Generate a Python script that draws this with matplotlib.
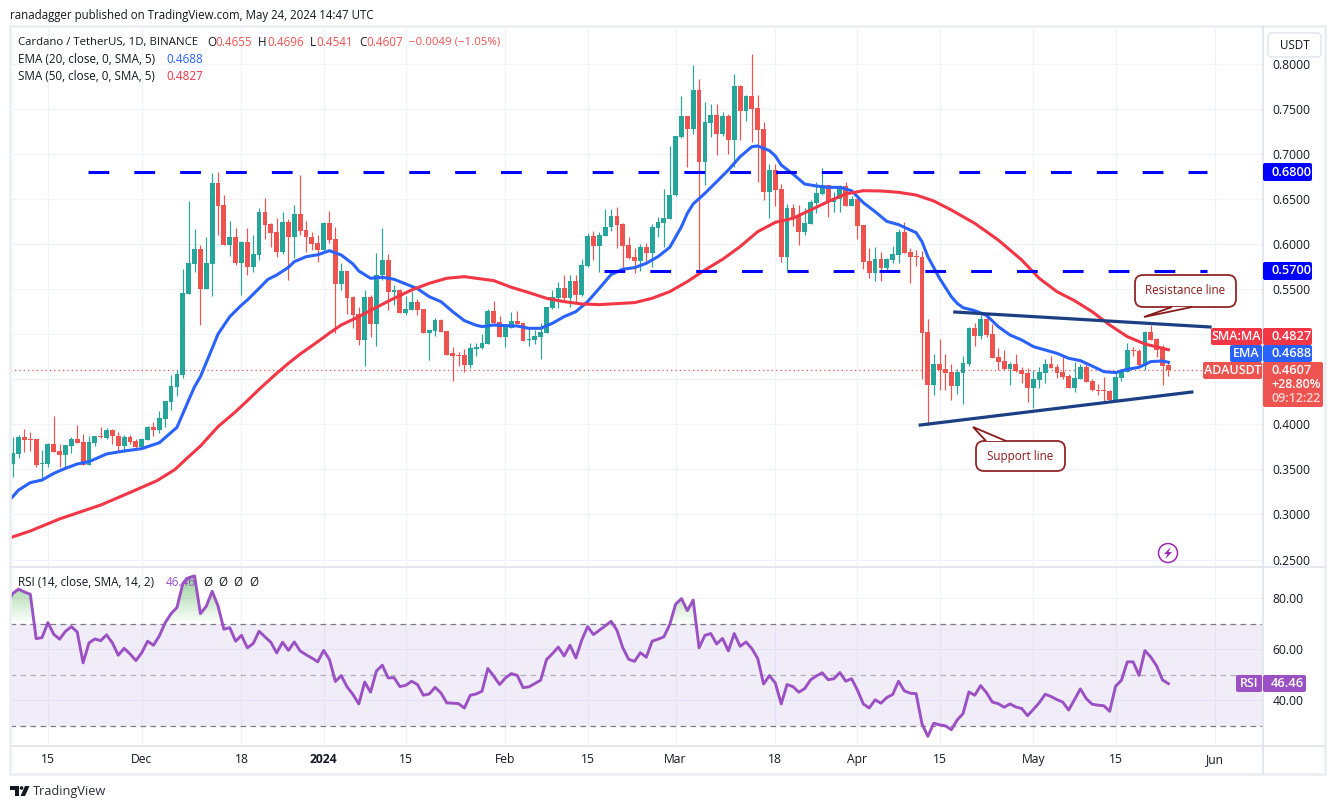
import numpy as np
import matplotlib
matplotlib.use("Agg")
import matplotlib.pyplot as plt
from matplotlib.patches import FancyBboxPatch, Polygon, Circle, Rectangle
from matplotlib.path import Path

plt.rcParams['font.family'] = ['Open Sans', 'DejaVu Sans']

# daily candles, Nov 9 2023 .. May 24 2024
opens = [
    .3563, .3674, .3859, .3833, .3833, .3560, .3563, .3778, .3704, .3663,
    .3763, .3833, .3800, .3552, .3793, .3867, .3852, .3937, .3870, .3763,
    .3859, .3815, .3748, .3830, .3970, .3937, .4059, .4251, .4413, .4546,
    .5444, .5781, .5943, .5500, .5781, .6675, .6431, .5988, .6076, .5788,
    .6021, .5744, .5877, .6354, .6220, .6132, .5910, .6243, .6076, .6331,
    .6154, .6076, .6010, .5932, .6232, .6055, .5556, .5700, .5412, .5223,
    .4935, .5412, .5112, .5656, .5822, .5467, .5489, .5234, .5268, .5356,
    .5279, .5013, .5035, .5157, .5035, .4791, .4769, .4769, .4658, .4835,
    .4846, .4891, .5257, .5135, .4968, .5068, .5146, .5123, .4936, .4935,
    .4968, .5013, .5290, .5401, .5511, .5401, .5589, .5434, .5755, .6088,
    .5977, .6088, .6188, .6310, .6221, .5988, .5855, .5811, .5966, .5899,
    .6177, .6232, .6276, .6542, .7185, .7418, .7274, .7707, .6908, .7341,
    .7429, .7219, .7418, .7152, .7751, .7474, .7640, .7507, .7274, .6576,
    .6820, .6609, .5855, .6398, .6321, .6132, .6221, .6454, .6553, .6653,
    .6465, .6498, .6642, .6420, .6498, .6210, .5811, .5678, .5833, .5733,
    .5822, .5877, .6132, .5910, .5866, .5855, .5023, .4436, .4669, .4613,
    .4580, .4425, .4569, .4669, .5068, .4979, .5168, .5001, .4746, .4702,
    .4613, .4669, .4602, .4569, .4403, .4491, .4569, .4669, .4635, .4580,
    .4536, .4403, .4502, .4635, .4480, .4380, .4377, .4369, .4270, .4513,
    .4580, .4820, .4813, .4646, .5023, .4946, .4835, .4655]
highs = [
    .3863, .3881, .3944, .3911, .3833, .3715, .3789, .4092, .3778, .3770,
    .3863, .3992, .3892, .3870, .3870, .3974, .3959, .3948, .3915, .3881,
    .3881, .3833, .3844, .3981, .4029, .4147, .4258, .4546, .4602, .5722,
    .6475, .6165, .5988, .6076, .6786, .6797, .6542, .6254, .6176, .6032,
    .6176, .6098, .6398, .6509, .6232, .6287, .6354, .6276, .6431, .6764,
    .6254, .6132, .6098, .6243, .6365, .6188, .5789, .5700, .5423, .5301,
    .5489, .5434, .5900, .6177, .5888, .5545, .5504, .5423, .5478, .5390,
    .5279, .5046, .5179, .5168, .5035, .4857, .4802, .4835, .4902, .4902,
    .5002, .5279, .5367, .5201, .5112, .5245, .5256, .5123, .5057, .5046,
    .5123, .5301, .5489, .5578, .5656, .5656, .5656, .5833, .6121, .6143,
    .6132, .6387, .6387, .6410, .6232, .6077, .5955, .6000, .6010, .6217,
    .6295, .6605, .7086, .7197, .7640, .7418, .7984, .7828, .7574, .7551,
    .7551, .7463, .7440, .7884, .7762, .7651, .8106, .7651, .7352, .6886,
    .6886, .6664, .6443, .6443, .6432, .6398, .6487, .6687, .6842, .6653,
    .6576, .6653, .6687, .6531, .6498, .6210, .5955, .5966, .5911, .5844,
    .5977, .6166, .6243, .5955, .5933, .5921, .5168, .4780, .4946, .4780,
    .4669, .4613, .4757, .5079, .5123, .5212, .5201, .5112, .4846, .4824,
    .4691, .4780, .4635, .4624, .4602, .4635, .4724, .4757, .4669, .4757,
    .4558, .4691, .4669, .4691, .4502, .4447, .4524, .4380, .4569, .4613,
    .4901, .4857, .4835, .5034, .5101, .4957, .4879, .4696]
lows = [
    .3419, .3630, .3697, .3708, .3530, .3401, .3530, .3697, .3530, .3512,
    .3685, .3789, .3549, .3552, .3763, .3844, .3837, .3781, .3708, .3697,
    .3781, .3722, .3733, .3826, .3870, .3907, .3974, .4158, .4314, .4517,
    .5444, .5692, .5101, .5500, .5422, .6098, .5988, .5866, .5766, .5433,
    .5655, .5688, .5821, .6054, .5965, .5855, .5888, .5600, .5844, .6098,
    .5910, .5932, .5799, .5914, .6006, .5009, .5489, .5223, .5068, .4880,
    .4647, .4968, .4868, .5600, .5268, .5323, .5234, .5212, .5268, .5212,
    .5013, .4713, .4979, .5024, .4769, .4480, .4647, .4580, .4625, .4758,
    .4835, .4891, .5123, .4968, .4857, .5068, .5112, .4924, .4868, .4891,
    .4724, .5013, .5279, .5290, .5378, .5301, .5356, .5423, .5744, .5822,
    .5689, .6088, .6143, .5955, .5744, .5833, .5678, .5700, .5811, .5741,
    .6077, .5970, .6276, .6535, .7174, .6853, .7219, .5711, .6653, .7185,
    .6986, .7197, .6997, .6857, .7152, .7363, .7130, .6687, .6487, .6288,
    .6421, .5800, .5689, .6202, .5988, .6099, .6221, .6339, .6542, .6302,
    .6354, .6354, .6420, .6420, .6055, .5722, .5622, .5589, .5589, .5711,
    .5785, .5785, .5896, .5570, .5755, .4502, .3992, .4325, .4380, .4380,
    .4270, .4336, .4225, .4646, .4868, .4946, .4968, .4735, .4602, .4602,
    .4436, .4580, .4458, .4247, .4181, .4403, .4458, .4624, .4513, .4502,
    .4403, .4358, .4502, .4469, .4369, .4325, .4258, .4258, .4258, .4480,
    .4580, .4757, .4646, .4602, .4935, .4746, .4436, .4541]
closes = [
    .3678, .3859, .3830, .3823, .3552, .3570, .3778, .3697, .3663, .3767,
    .3833, .3793, .3549, .3800, .3870, .3857, .3937, .3867, .3763, .3859,
    .3804, .3748, .3833, .3970, .3937, .4066, .4258, .4424, .4558, .5455,
    .5788, .5943, .5500, .5788, .6675, .6420, .5988, .6076, .5788, .6021,
    .5744, .5888, .6354, .6209, .6121, .5910, .6243, .6076, .6331, .6143,
    .6076, .5999, .5932, .6232, .6044, .5556, .5700, .5401, .5212, .4935,
    .5412, .5112, .5656, .5822, .5467, .5489, .5234, .5279, .5356, .5268,
    .5013, .5046, .5157, .5024, .4769, .4758, .4759, .4658, .4846, .4857,
    .4902, .5257, .5123, .4968, .5079, .5146, .5112, .4924, .4946, .4979,
    .5024, .5301, .5412, .5511, .5401, .5589, .5434, .5767, .6088, .5977,
    .6099, .6188, .6310, .6210, .5977, .5844, .5811, .5966, .5900, .6188,
    .6243, .6287, .6542, .7197, .7418, .7274, .7707, .6908, .7352, .7429,
    .7219, .7418, .7152, .7751, .7474, .7640, .7496, .7263, .6576, .6820,
    .6598, .5855, .6398, .6276, .6132, .6232, .6465, .6565, .6653, .6465,
    .6509, .6642, .6420, .6498, .6199, .5800, .5678, .5833, .5733, .5833,
    .5888, .6132, .5896, .5855, .5856, .5012, .4436, .4669, .4602, .4569,
    .4425, .4580, .4680, .5068, .4979, .5168, .4990, .4735, .4691, .4613,
    .4669, .4591, .4558, .4403, .4502, .4580, .4669, .4624, .4569, .4524,
    .4403, .4513, .4635, .4469, .4380, .4370, .4367, .4270, .4524, .4591,
    .4824, .4810, .4658, .5023, .4935, .4824, .4646, .4607]

# moving averages read at every couple of candles
ema_days = [0, 2, 4, 6, 8, 10, 12, 14, 17, 20, 23, 26, 29, 31, 32, 33, 35, 36, 38, 40, 41, 43, 44.5, 46, 48, 49,
            51, 53, 55, 57, 59, 60, 62, 64, 66, 68, 70, 72, 74, 76, 78, 80, 81, 83, 85, 87, 89, 91, 93, 95, 97,
            99, 101, 103, 105, 107, 109, 111, 113, 115, 116, 117, 119, 121, 123, 125, 127, 128, 130, 131, 132,
            134, 136, 138, 140, 142, 144, 146, 148, 150, 152, 154, 155, 156, 157, 159, 161, 162, 163, 165, 167,
            169, 171, 173, 175, 177, 179, 181, 183, 185, 187, 189, 191, 193, 195, 197, 198]
ema_vals = [.3125, .3271, .3353, .3382, .3456, .3512, .3560, .3586, .3671, .3704, .3730, .3796, .3966, .4269, .4417,
            .4528, .4842, .5001, .5193, .5322, .5378, .5507, .5607, .5655, .5740, .5803, .5858, .5880, .5925, .5877,
            .5778, .5700, .5619, .5630, .5608, .5556, .5504, .5415, .5360, .5249, .5149, .5098, .5083, .5101, .5094,
            .5090, .5064, .5064, .5120, .5194, .5249, .5360, .5508, .5660, .5720, .5737, .5785, .5859, .5962, .6191,
            .6339, .6443, .6561, .6690, .6820, .6967, .7078, .7086, .7034, .6975, .6875, .6775, .6664, .6642, .6627,
            .6627, .6590, .6457, .6358, .6250, .6214, .6154, .6125, .6025, .5859, .5618, .5415, .5341, .5293, .5260,
            .5208, .5083, .4990, .4935, .4861, .4824, .4787, .4732, .4706, .4646, .4584, .4573, .4610, .4632, .4695,
            .4702, .4688]
sma_days = [0, 4, 9, 16, 21, 25.6, 28.7, 31, 33, 36, 39, 41, 43, 46, 48, 50, 53, 55, 57, 60, 63, 66, 69, 72, 75, 78,
            80, 83, 86, 89, 92, 95, 98, 101, 104, 107, 110, 113, 116, 119, 122, 125, 128, 131, 134, 137, 140, 143,
            146, 149, 152, 155, 158, 161, 165, 169, 173, 176, 179, 182, 185, 188, 191, 194, 198]
sma_vals = [.2730, .2817, .2951, .3105, .3244, .3375, .3501, .3641, .3759, .3974, .4140, .4262, .4388, .4565, .4676,
            .4779, .4916, .5012, .5101, .5194, .5297, .5397, .5489, .5563, .5619, .5637, .5619, .5593, .5519, .5460,
            .5397, .5360, .5334, .5327, .5338, .5349, .5397, .5471, .5582, .5711, .5829, .5970, .6136, .6239, .6284,
            .6376, .6469, .6554, .6590, .6587, .6572, .6542, .6476, .6376, .6228, .6043, .5822, .5618, .5471, .5371,
            .5249, .5101, .4972, .4890, .4827]

rsi_vals = [
    77.5, 81.8, 83.5, 82.4, 81.5, 64.1, 64.5, 70.4, 65.8, 63.9, 67.0,
    68.8, 66.7, 54.6, 62.4, 64.0, 63.3, 65.6, 62.4, 57.6, 60.3,
    58.1, 55.5, 58.6, 63.1, 61.5, 65.2, 70.4, 73.9, 76.3, 85.7,
    88.0, 88.7, 73.9, 76.8, 82.7, 76.9, 67.8, 68.4, 63.1, 65.4,
    60.5, 62.2, 67.0, 64.8, 62.7, 58.5, 62.7, 59.5, 62.8, 59.3,
    57.8, 56.5, 55.0, 59.5, 55.9, 47.3, 49.6, 45.2, 42.2, 38.5,
    47.1, 43.1, 51.4, 53.7, 48.7, 48.8, 45.3, 45.8, 47.4, 46.1,
    41.9, 42.4, 45.0, 42.8, 38.9, 38.8, 38.6, 36.9, 41.9, 42.4,
    43.5, 52.4, 49.4, 46.1, 48.7, 50.4, 49.7, 44.9, 45.2, 46.5,
    47.8, 55.9, 58.2, 60.8, 57.3, 61.5, 56.5, 63.5, 68.8, 65.7,
    67.4, 69.1, 70.9, 67.4, 60.5, 56.0, 55.2, 58.6, 56.8, 63.1,
    63.9, 64.8, 69.6, 77.6, 79.8, 75.1, 79.2, 60.5, 65.4, 66.1,
    62.0, 64.2, 59.3, 66.1, 61.1, 62.8, 60.2, 56.3, 46.3, 49.6,
    46.7, 38.5, 46.1, 45.3, 43.1, 44.5, 47.9, 49.5, 50.7, 48.0,
    48.4, 50.8, 47.4, 48.4, 43.9, 38.5, 36.9, 40.1, 38.8, 41.0,
    42.2, 47.4, 43.6, 42.7, 42.5, 30.7, 25.8, 30.9, 30.3, 29.9,
    28.4, 32.2, 34.7, 43.2, 41.9, 45.7, 42.9, 39.2, 38.6, 37.2,
    38.5, 37.3, 36.7, 33.9, 36.4, 39.0, 42.3, 41.4, 40.2, 39.2,
    36.1, 40.2, 44.4, 40.6, 38.4, 38.0, 37.8, 35.6, 45.4, 47.8,
    55.0, 55.0, 49.7, 59.4, 56.9, 53.4, 47.9, 46.46]

# x axis labels sit on candle numbers
tick_days = [7, 23, 40, 54, 68, 85, 99, 114, 131, 145, 159, 175, 189, 206]
tick_labels = ['15', 'Dec', '18', '2024', '15', 'Feb', '15', 'Mar', '18', 'Apr', '15', 'May', '15', 'Jun']
price_ticks = [.25, .30, .35, .40, .45, .50, .55, .60, .65, .70, .75, .80]
rsi_ticks = [40, 60, 80]

# drawn lines on the chart, (candle, price)
level_high = ([13.8, 204.6], [.68, .68])
level_mid = ([101.8, 204.6], [.57, .57])
support_line = ([155.7, 202.0], [.3992, .4358])
resist_line = ([161.6, 205.1], [.5245, .5079])

UP = '#26a69a'
DOWN = '#ef5350'
GRID = '#f0f3fa'
BORDER = '#e0e3eb'
TEXT = '#131722'
EMA_COL = '#2962ff'
SMA_COL = '#f23645'
RSI_COL = '#9b51c4'
NOTE = '#8b1a1a'
W, H = 1337, 809
FS = 8.4


def axes_box(x0, y0, x1, y1):
    return [x0 / W, 1 - y1 / H, (x1 - x0) / W, (y1 - y0) / H]


fig = plt.figure(figsize=(W / 100, H / 100), dpi=100, facecolor='white')
ax = fig.add_axes(axes_box(10, 26, 1262, 566))
rsi_ax = fig.add_axes(axes_box(10, 567, 1262, 746))
over = fig.add_axes([0, 0, 1, 1], zorder=5)
over.set_xlim(0, W)
over.set_ylim(H, 0)
over.axis('off')

days = np.arange(1, len(closes) + 1)
o = np.array(opens)
c = np.array(closes)
up = c >= o
colors = [UP if u else DOWN for u in up]

for a in (ax, rsi_ax):
    a.set_xlim(0.54, 213.96)
    a.set_xticks(tick_days)
    a.grid(True, color=GRID, lw=0.8)
    a.set_axisbelow(True)
    for s in a.spines.values():
        s.set_visible(False)
    a.yaxis.tick_right()
    a.tick_params(axis='both', length=0, labelcolor=TEXT, labelsize=8.7)
    a.tick_params(axis='y', pad=7.5)

ax.set_ylim(.2429, .8416)
ax.set_yticks(price_ticks)
ax.set_yticklabels(['%.4f' % p for p in price_ticks])
ax.tick_params(axis='x', labelbottom=False)

ax.vlines(days, lows, highs, colors=colors, lw=0.85, zorder=2)
ax.bar(days, np.abs(c - o), bottom=np.minimum(o, c), width=0.82, color=colors, lw=0, zorder=3)
ax.plot(ema_days, ema_vals, color=EMA_COL, lw=2.2, zorder=4, solid_joinstyle='round')
ax.plot(sma_days, sma_vals, color=SMA_COL, lw=2.2, zorder=4, solid_joinstyle='round')
ax.axhline(closes[-1], color=DOWN, lw=0.9, ls=(0, (1, 2.5)), zorder=1)

for lvl in (level_high, level_mid):
    ax.plot(lvl[0], lvl[1], color='#0000ff', lw=2.2, ls=(0, (6.8, 8.2)), dash_capstyle='butt', zorder=5)
for line in (support_line, resist_line):
    ax.plot(line[0], line[1], color='#1c3f84', lw=2.3, zorder=5)

# rsi pane
rsi_x = np.arange(0, len(rsi_vals))
rsi_y = np.array(rsi_vals)
rsi_ax.set_ylim(22.0, 92.2)
rsi_ax.set_yticks(rsi_ticks)
rsi_ax.set_yticklabels(['%.2f' % t for t in rsi_ticks])
rsi_ax.set_xticklabels(tick_labels)
rsi_ax.tick_params(axis='x', pad=5)
for lab, txt in zip(rsi_ax.get_xticklabels(), tick_labels):
    if txt == '2024':
        lab.set_fontweight('bold')
rsi_ax.axhspan(30, 70, color='#7e57c2', alpha=0.1, lw=0, zorder=1)
for lvl, col in ((70, '#787b86'), (30, '#787b86'), (50, '#b0b2ba')):
    rsi_ax.axhline(lvl, color=col, lw=0.9, ls=(0, (4.5, 3.5)), zorder=2)

# green fade above 70, clipped under the line
fill = rsi_ax.fill_between(rsi_x, 70, rsi_y, where=rsi_y > 70, interpolate=True, facecolor='none', lw=0)
grad = np.zeros((64, 2, 4))
grad[:, :, 0] = 0.30
grad[:, :, 1] = 0.69
grad[:, :, 2] = 0.31
grad[:, :, 3] = np.linspace(0.62, 0.0, 64)[:, None]
im = rsi_ax.imshow(grad, extent=(0.54, 213.96, 70, 90), aspect='auto', origin='upper', zorder=2)
im.set_clip_path(Path.make_compound_path(*fill.get_paths()), rsi_ax.transData)
rsi_ax.set_xlim(0.54, 213.96)
rsi_ax.set_ylim(22.0, 92.2)
rsi_ax.plot(rsi_x, rsi_y, color=RSI_COL, lw=2.1, zorder=4, solid_joinstyle='round')

# frame
for xs, ys in (([10, 1325], [26, 26]), ([10, 10], [26, 774]), ([1325, 1325], [26, 774]), ([10, 1325], [774, 774])):
    over.plot(xs, ys, color='#eceef4', lw=1.9, solid_capstyle='projecting')
for xs, ys in (([10, 1325], [566.5, 566.5]), ([10, 1325], [746, 746]), ([1262.5, 1262.5], [26, 774])):
    over.plot(xs, ys, color=BORDER, lw=1.2, solid_capstyle='butt')


def put(x, y, s, color=TEXT, size=FS, **kw):
    return over.text(x, y, s, color=color, fontsize=size, va='center', ha=kw.pop('ha', 'left'), zorder=kw.pop('zorder', 9), **kw)


def tag(x0, x1, y0, y1, color):
    over.add_patch(FancyBboxPatch((x0 + 1.5, y0 + 1.5), x1 - x0 - 3, y1 - y0 - 3,
                                  boxstyle='round,pad=1.5,rounding_size=2', fc=color, ec='none', zorder=6))


put(10, 15, 'ranadagger published on TradingView.com, May 24, 2024 14:47 UTC', size=8.3)
put(18, 42, 'Cardano / TetherUS, 1D, BINANCE', size=8.2)
for x, lab, xv, val in ((207, 'O', 215, '0.4655'), (258, 'H', 267, '0.4696'), (310, 'L', 316, '0.4541'),
                        (359, 'C', 366, '0.4607')):
    put(x, 42, lab)
    put(xv, 42, val, color=DOWN)
put(409, 42, '\u22120.0049 (\u22121.05%)', color=DOWN, size=8.2)
put(18, 59, 'EMA (20, close, 0, SMA, 5)')
put(166, 59, '0.4688', color=EMA_COL)
put(18, 76, 'SMA (50, close, 0, SMA, 5)')
put(166, 76, '0.4827', color=SMA_COL)
put(18, 582, 'RSI (14, close, SMA, 14, 2)')
put(166, 582, '46.46', color=RSI_COL)
for x in (203, 218, 233, 249):
    put(x, 582, '\u00d8')

# currency button
over.add_patch(FancyBboxPatch((1268, 33), 53, 24, boxstyle='round,pad=0,rounding_size=4', fc='white', ec=BORDER, lw=1))
put(1294.5, 45, 'USDT', ha='center')

# price tags on the right
NUM = 9.3
LAB = 9.0
for y, txt in ((172, '0.6800'), (271, '0.5700')):
    tag(1263, 1312, y - 9, y + 9, '#0000ff')
    put(1271, y, txt, color='white', fontweight='semibold', size=NUM)
tag(1211, 1262, 328, 345, SMA_COL)
put(1236.5, 336.5, 'SMA:MA', color='white', ha='center', fontweight='semibold', size=LAB)
tag(1263, 1312, 328, 345, SMA_COL)
put(1271, 336.5, '0.4827', color='white', fontweight='semibold', size=NUM)
tag(1230, 1262, 345, 362, EMA_COL)
put(1246, 353.5, 'EMA', color='white', ha='center', fontweight='semibold', size=LAB)
tag(1263, 1312, 345, 362, EMA_COL)
put(1271, 353.5, '0.4688', color='white', fontweight='semibold', size=NUM)
tag(1203, 1262, 362, 379, DOWN)
put(1232.5, 370.5, 'ADAUSDT', color='white', ha='center', fontweight='semibold', size=LAB)
tag(1263, 1323, 362, 407, DOWN)
put(1271, 370, '0.4607', color='white', fontweight='semibold', size=NUM)
put(1271, 384.5, '+28.80%', color='white', fontweight='semibold', size=LAB)
put(1271, 398.5, '09:12:22', color='#fbd5d4', fontweight='semibold', size=LAB)
tag(1236, 1262, 675, 692, RSI_COL)
put(1249, 683.5, 'RSI', color='white', ha='center', fontweight='semibold', size=LAB)
tag(1263, 1306, 675, 692, RSI_COL)
put(1271, 683.5, '46.46', color='white', fontweight='semibold', size=NUM)


def callout(x0, y0, x1, y1, base_a, base_b, tip, text):
    over.add_patch(FancyBboxPatch((x0, y0), x1 - x0, y1 - y0, boxstyle='round,pad=0,rounding_size=8',
                                  fc='white', ec=NOTE, lw=1.3, alpha=0.95, zorder=7))
    over.add_patch(Polygon([base_a, tip, base_b], closed=False, fc='white', ec=NOTE, lw=1.3, zorder=7))
    put((x0 + x1) / 2, (y0 + y1) / 2, text, color=NOTE, ha='center', size=8.4)


callout(1135, 275, 1236, 307, (1192, 307), (1172, 307), (1144, 317), 'Resistance line')
callout(976, 441, 1065, 471, (986, 441), (1006, 441), (973, 427), 'Support line')

# flash icon
over.add_patch(Circle((1168, 553), 9.5, fc='white', ec='#9c27b0', lw=1.1, zorder=6))
over.add_patch(Polygon([(1171, 547), (1164, 554), (1167.5, 554), (1165.5, 559), (1172, 552), (1168.5, 552)],
                       fc='#9c27b0', ec='none', zorder=7))

# logo
over.add_patch(Rectangle((10, 786), 9, 3.5, fc=TEXT, ec='none'))
over.add_patch(Rectangle((14.5, 786), 4.5, 10, fc=TEXT, ec='none'))
over.add_patch(Circle((21.5, 788), 1.8, fc=TEXT, ec='none'))
over.add_patch(Polygon([(25, 786), (29.5, 786), (25, 796), (20.5, 796)], fc=TEXT, ec='none'))
put(33, 791, 'TradingView', size=9.2, color='#2a2e39')

fig.savefig('out.png', dpi=100)
